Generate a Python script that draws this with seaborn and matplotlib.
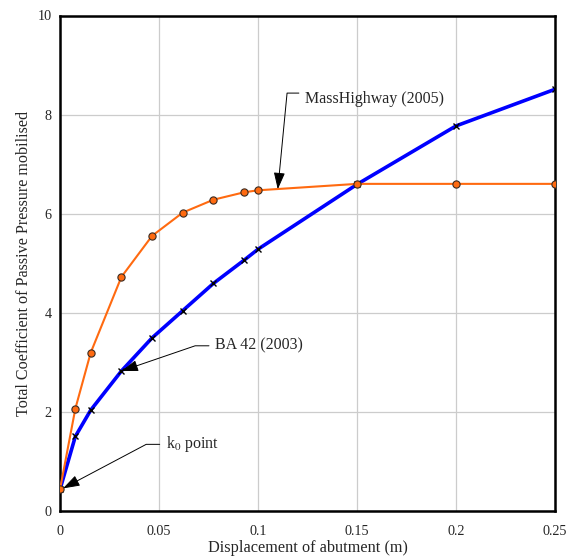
import matplotlib
matplotlib.use("Agg")
import matplotlib.pyplot as plt
import seaborn as sns
import pandas as pd

# Passive pressure coefficient versus abutment displacement
displacement = [0.0, 0.00775, 0.0155, 0.031, 0.0465, 0.062, 0.0775, 0.093, 0.1, 0.15, 0.2, 0.25]
k_masshighway = [0.43, 2.06, 3.19, 4.72, 5.55, 6.02, 6.28, 6.43, 6.47, 6.6, 6.6, 6.6]
k_ba42 = [0.43, 1.50, 2.03, 2.82, 3.49, 4.04, 4.59, 5.06, 5.28, 6.59, 7.77, 8.51]

x_ticks = [0, 0.05, 0.1, 0.15, 0.2, 0.25]
x_tick_labels = ["0", "0.05", "0.1", "0.15", "0.2", "0.25"]
y_ticks = [0, 2, 4, 6, 8, 10]

df_mass = pd.DataFrame({"d": displacement, "k": k_masshighway})
df_ba = pd.DataFrame({"d": displacement, "k": k_ba42})

sns.set_style("white")
plt.rcParams["font.family"] = ["Liberation Serif", "DejaVu Serif"]
plt.rcParams["mathtext.fontset"] = "stix"

fig = plt.figure(figsize=(5.66, 5.56), dpi=100)
ax = fig.add_axes([60 / 566, 1 - 510.7 / 556, 495 / 566, (510.7 - 15.5) / 556])

sns.lineplot(data=df_ba, x="d", y="k", ax=ax, sort=False, estimator=None,
             color="#0000ff", linewidth=2.6, marker="x", markersize=4,
             markeredgecolor="black", markeredgewidth=1.0, zorder=3)
sns.lineplot(data=df_mass, x="d", y="k", ax=ax, sort=False, estimator=None,
             color="#ff6a10", linewidth=1.5, marker="o", markersize=5.2,
             markerfacecolor="#ff6a10", markeredgecolor="#3a2a20",
             markeredgewidth=0.8, zorder=4)

ax.set_xlim(0, 0.25)
ax.set_ylim(0, 10)
ax.set_xticks(x_ticks)
ax.set_xticklabels(x_tick_labels)
ax.set_yticks(y_ticks)
ax.tick_params(axis="x", length=0, pad=10, labelsize=10.2)
ax.tick_params(axis="y", length=0, pad=6, labelsize=10.2)
ax.grid(True, color="#cccccc", linewidth=0.9)
ax.set_axisbelow(True)
for s in ax.spines.values():
    s.set_color("black")
    s.set_linewidth(1.8)

ax.set_xlabel("Displacement of abutment (m)", fontsize=11.7, labelpad=2)
ax.set_ylabel("Total Coefficient of Passive Pressure mobilised", fontsize=11.6, labelpad=4)

arrow_kw = dict(arrowstyle="-|>,head_length=0.9,head_width=0.3", color="black",
                linewidth=0.7, shrinkA=2, shrinkB=0)

ax.annotate("MassHighway (2005)", xy=(0.110, 6.49), xytext=(0.1237, 8.32),
            fontsize=11.5, va="center", ha="left",
            arrowprops=dict(**arrow_kw, relpos=(0, 0.85),
                            connectionstyle="angle,angleA=0,angleB=84.5,rad=0"))
ax.annotate("BA 42 (2003)", xy=(0.031, 2.82), xytext=(0.0783, 3.33),
            fontsize=11.5, va="center", ha="left",
            arrowprops=dict(**arrow_kw, relpos=(0, 0.5),
                            connectionstyle="angle,angleA=0,angleB=18.9,rad=0"))
ax.annotate("k$_0$ point", xy=(0.0015, 0.45), xytext=(0.0534, 1.34),
            fontsize=11.5, va="center", ha="left",
            arrowprops=dict(**arrow_kw, relpos=(0, 0.5),
                            connectionstyle="angle,angleA=0,angleB=27.9,rad=0"))

fig.savefig("out.png", dpi=100)
